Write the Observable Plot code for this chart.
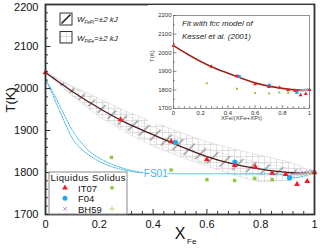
<!DOCTYPE html>
<html><head><meta charset="utf-8">
<script src="https://cdn.jsdelivr.net/npm/d3@7"></script>
<script src="https://cdn.jsdelivr.net/npm/@observablehq/plot@0.6"></script>
<style>
body{margin:0;background:#fff;}
#wrap{position:relative;width:320px;height:251px;overflow:hidden;}
#wrap svg{position:absolute;}
</style></head><body><div id="wrap"></div>
<script>
const FONT = "'Liberation Sans', Arial, Helvetica, sans-serif";

// ---- data ----
const curveX    = [0, 0.1, 0.2, 0.3, 0.4, 0.5, 0.6, 0.7, 0.8, 0.9, 0.95, 1];
const fitT      = [2038, 1993, 1953, 1918, 1890, 1863, 1838, 1820, 1808, 1800, 1799, 1800];
const fePtUpper = [2038, 2003, 1967, 1935, 1908, 1882, 1856, 1836, 1822, 1810, 1805, 1800];
const fePtLower = [2038, 1983, 1939, 1901, 1872, 1844, 1820, 1804, 1794, 1790, 1793, 1800];
const ptFeUpper = [2038, 2005, 1975, 1945, 1920, 1895, 1872, 1855, 1840, 1825, 1814, 1800];
const ptFeLower = [2038, 1982, 1932, 1895, 1862, 1837, 1815, 1793, 1776, 1780, 1789, 1800];

const fs01SolX = [0, 0.02, 0.05, 0.08, 0.105, 0.14, 0.19, 0.24, 0.3, 0.35, 0.41, 0.5, 0.6, 0.7, 0.8, 0.87, 0.9, 0.93, 0.96, 1];
const fs01SolT = [2022, 1995, 1950, 1907, 1876, 1852, 1830, 1815, 1805, 1800, 1798, 1797, 1797, 1797, 1797, 1796, 1792, 1788, 1791, 1800];
const fs01LiqX = [0, 0.03, 0.06, 0.1, 0.127, 0.16, 0.2, 0.25, 0.3, 0.35, 0.41];
const fs01LiqT = [2022, 1988, 1950, 1900, 1876, 1852, 1834, 1819, 1808, 1801, 1798];
const fs01LabelIndex = 10;

const it07LiqX = [0, 0.279, 0.467, 0.6, 0.703, 0.78, 0.843, 0.893, 0.935, 0.973, 1.0];
const it07LiqT = [2038, 1926, 1874, 1831, 1817, 1813, 1799, 1796, 1772, 1779, 1800];
const f04LiqX  = [0.483, 0.704, 0.907];
const f04LiqT  = [1872, 1825, 1787];
const it07SolX = [0.245, 0.467, 0.6, 0.703, 0.778, 0.843];
const it07SolT = [1836, 1806, 1783, 1781, 1786, 1783];
const bh59LiqX = [0.93, 0.945, 0.96, 0.975, 0.99];
const bh59LiqT = [1797, 1798, 1799, 1801, 1803];
const bh59SolX = [0.95, 0.97, 0.985, 1.0];
const bh59SolT = [1795, 1797, 1800, 1802];

const xTicks = [0, 0.2, 0.4, 0.6, 0.8, 1];
const xTickLabels = ["0", "0.2", "0.4", "0.6", "0.8", "1"];
const yTicks = [1700, 1800, 1900, 2000, 2100, 2200];
const yTickLabels = ["1700", "1800", "1900", "2000", "2100", "2200"];

// ---- tables ----
const band = curveX.map((x, i) => ({x, fit: fitT[i], a1: fePtLower[i], a2: fePtUpper[i], b1: ptFeLower[i], b2: ptFeUpper[i]}));
const pts = (xs, ts) => xs.map((x, i) => ({x, t: ts[i]}));
const fsSol = pts(fs01SolX, fs01SolT), fsLiq = pts(fs01LiqX, fs01LiqT);
const it07L = pts(it07LiqX, it07LiqT), f04L = pts(f04LiqX, f04LiqT), it07S = pts(it07SolX, it07SolT);
const bh59L = pts(bh59LiqX, bh59LiqT), bh59S = pts(bh59SolX, bh59SolT);
const xMinor = d3.range(0.04, 1, 0.04).filter(v => Math.abs(v / 0.2 - Math.round(v / 0.2)) > 1e-6);
const yMinor = d3.range(1720, 2200, 20).filter(v => v % 100 !== 0);
const yTop = yTicks.filter(v => v === 2200), yRest = yTicks.filter(v => v !== 2200);
const yFmt = d => yTickLabels[yTicks.indexOf(d)];

const RED = "#ee1d25", BLUE = "#1eaaf0", GREEN = "#8cc63f", PURPLE = "#b48cc8", LGREEN = "#b9de90", FSBLUE = "#3fb3e8";

const main = Plot.plot({
  width: 320, height: 251,
  marginLeft: 45, marginRight: 6, marginTop: 4, marginBottom: 37,
  x: {domain: [0, 1], axis: null, label: null},
  y: {domain: [1700, 2200], axis: null, label: null},
  style: {fontFamily: FONT, background: "transparent", color: "#111"},
  marks: [
    Plot.areaY(band, {x: "x", y1: "b1", y2: "b2", fill: "url(#gridPat)", stroke: "#d4d4d4", strokeWidth: 0.6}),
    Plot.areaY(band, {x: "x", y1: "a1", y2: "a2", fill: "url(#diagPat)", stroke: "#dcdcdc", strokeWidth: 0.6}),
    Plot.line(fsLiq, {x: "x", y: "t", stroke: FSBLUE, strokeWidth: 1, strokeDasharray: "1.4,1.3", curve: "catmull-rom"}),
    Plot.line(fsSol, {x: "x", y: "t", stroke: FSBLUE, strokeWidth: 1, strokeDasharray: "1.4,1.3", curve: "catmull-rom"}),
    Plot.text([fsSol[fs01LabelIndex]], {x: "x", y: "t", text: () => "FS01", fill: FSBLUE, stroke: "white", strokeWidth: 3, fontSize: 10, textAnchor: "middle"}),
    Plot.line(band, {x: "x", y: "fit", stroke: "#4a1c1c", strokeWidth: 1.3, curve: "catmull-rom"}),
    Plot.dot(it07S, {x: "x", y: "t", symbol: "square", r: 1.9, fill: GREEN}),
    Plot.dot(bh59S, {x: "x", y: "t", symbol: "plus", r: 2, stroke: LGREEN, strokeWidth: 1}),
    Plot.dot(bh59L, {x: "x", y: "t", symbol: "times", r: 1.8, stroke: PURPLE, strokeWidth: 1}),
    Plot.dot(f04L, {x: "x", y: "t", r: 2.6, fill: BLUE}),
    Plot.dot(it07L, {x: "x", y: "t", symbol: "triangle", r: 2.2, fill: RED}),
    // inward ticks
    Plot.ruleX(xTicks, {x: d => d, y1: 1700, y2: 1712, stroke: "#333", strokeWidth: 1}),
    Plot.ruleX(xMinor, {x: d => d, y1: 1700, y2: 1707, stroke: "#333", strokeWidth: 1}),
    Plot.ruleY(yTicks, {y: d => d, x1: 0, x2: 0.02, stroke: "#333", strokeWidth: 1}),
    Plot.ruleY(yMinor, {y: d => d, x1: 0, x2: 0.011, stroke: "#333", strokeWidth: 1}),
    Plot.axisX(xTicks, {tickSize: 0, tickPadding: 6, fontSize: 11, label: null, tickFormat: d => xTickLabels[xTicks.indexOf(d)]}),
    Plot.axisY(yRest, {tickSize: 0, tickPadding: 7, fontSize: 11, label: null, tickFormat: yFmt}),
    Plot.axisY(yTop, {tickSize: 0, tickPadding: 7, fontSize: 11, label: null, dy: 3, tickFormat: yFmt}),
    Plot.text(["T(K)"], {frameAnchor: "left", rotate: -90, dx: -35, dy: 3, fontSize: 13, fill: "#111"}),
    Plot.text(["X"], {frameAnchor: "bottom", dy: 24, fontSize: 16, fill: "#111"}),
    Plot.text(["Fe"], {frameAnchor: "bottom", dx: 7, dy: 29, fontSize: 8, textAnchor: "start", fill: "#111"}),
    Plot.frame({stroke: "#333", strokeWidth: 1.8})
  ]
});

// patterns
const svg = d3.select(main);
const defs = svg.insert("defs", ":first-child");
const gp = defs.append("pattern").attr("id", "gridPat").attr("patternUnits", "userSpaceOnUse").attr("width", 6).attr("height", 6);
gp.append("rect").attr("width", 6).attr("height", 6).attr("fill", "white");
gp.append("path").attr("d", "M0,0.5H6M0.5,0V6").attr("stroke", "#cdcdcd").attr("stroke-width", 0.6).attr("fill", "none");
const dp = defs.append("pattern").attr("id", "diagPat").attr("patternUnits", "userSpaceOnUse").attr("width", 11.3).attr("height", 11.3).attr("patternTransform", "rotate(45)");
dp.append("line").attr("x1", 2).attr("y1", 0).attr("x2", 2).attr("y2", 11.3).attr("stroke", "#9c9c9c").attr("stroke-width", 1.5);

// band legend
const lg = svg.append("g").attr("font-family", FONT).attr("fill", "#222").attr("text-anchor", "start");
lg.append("rect").attr("x", 60).attr("y", 13).attr("width", 12).attr("height", 12).attr("fill", "white").attr("stroke", "#333").attr("stroke-width", 1);
lg.append("line").attr("x1", 61.5).attr("y1", 23.5).attr("x2", 70.5).attr("y2", 14.5).attr("stroke", "#222").attr("stroke-width", 1.6);
lg.append("rect").attr("x", 60).attr("y", 31.5).attr("width", 12).attr("height", 11.5).attr("fill", "url(#gridPat)").attr("stroke", "#333").attr("stroke-width", 1);
function wLabel(y, sub) {
  const t = lg.append("text").attr("x", 77).attr("y", y).attr("font-style", "italic").attr("font-size", 8).attr("text-anchor", "start");
  t.append("tspan").text("W");
  t.append("tspan").attr("font-size", 4.5).attr("dy", 2).text(sub);
  t.append("tspan").attr("dy", -2).text("=±2 kJ");
}
wLabel(21.5, "FePt");
wLabel(40.5, "PtFe");

// data legend
const dl = svg.append("g").attr("font-family", FONT).attr("fill", "#111").attr("text-anchor", "start");
dl.append("rect").attr("x", 49).attr("y", 172).attr("width", 78).attr("height", 42).attr("fill", "white").attr("stroke", "#888").attr("stroke-width", 1);
dl.append("text").attr("x", 50.5).attr("y", 181).attr("font-size", 9.5).attr("textLength", 75).attr("lengthAdjust", "spacing").attr("text-anchor", "start").text("Liquidus Solidus");
const rows = [["IT07", 191.5, 187.8], ["F04", 202, 198.3], ["BH59", 212.5, 208.8]];
rows.forEach(([s, y]) => dl.append("text").attr("x", 78).attr("y", y).attr("font-size", 9.5).attr("text-anchor", "start").text(s));
const sym = (type, size) => d3.symbol(type, size)();
dl.append("path").attr("d", sym(d3.symbolTriangle, 15)).attr("transform", `translate(65,${rows[0][2]})`).attr("fill", RED);
dl.append("circle").attr("cx", 65).attr("cy", rows[1][2]).attr("r", 2.5).attr("fill", BLUE);
dl.append("path").attr("d", sym(d3.symbolTimes, 10)).attr("transform", `translate(65,${rows[2][2]})`).attr("stroke", PURPLE).attr("fill", "none");
dl.append("path").attr("d", sym(d3.symbolSquare, 11)).attr("transform", `translate(112,${rows[0][2]})`).attr("fill", GREEN);
dl.append("path").attr("d", sym(d3.symbolPlus, 13)).attr("transform", `translate(112,${rows[2][2]})`).attr("stroke", LGREEN).attr("fill", "none");

// inset
const ixMinor = d3.range(0.04, 1, 0.04).filter(v => Math.abs(v / 0.2 - Math.round(v / 0.2)) > 1e-6);
const iyMinor = d3.range(1750, 2200, 50).filter(v => v % 100 !== 0);
const inset = Plot.plot({
  width: 165, height: 119,
  marginLeft: 25, marginRight: 4, marginTop: 10, marginBottom: 16,
  x: {domain: [0, 1], axis: null, label: null},
  y: {domain: [1700, 2200], axis: null, label: null},
  style: {fontFamily: FONT, background: "white", color: "#333", overflow: "visible"},
  marks: [
    Plot.line(band, {x: "x", y: "fit", stroke: "#d23a2e", strokeWidth: 1.7, curve: "catmull-rom"}),
    Plot.line(band, {x: "x", y: "fit", stroke: "#3a1a1a", strokeWidth: 0.6, curve: "catmull-rom"}),
    Plot.dot(it07S, {x: "x", y: "t", symbol: "square", r: 1.1, fill: GREEN}),
    Plot.dot(bh59S, {x: "x", y: "t", symbol: "plus", r: 1.3, stroke: LGREEN, strokeWidth: 0.8}),
    Plot.dot(bh59L, {x: "x", y: "t", symbol: "times", r: 1.2, stroke: PURPLE, strokeWidth: 0.8}),
    Plot.dot(f04L, {x: "x", y: "t", symbol: "square", r: 1.8, fill: BLUE}),
    Plot.dot(it07L, {x: "x", y: "t", symbol: "triangle", r: 1.5, fill: RED}),
    Plot.ruleX(xTicks, {x: d => d, y1: 1700, y2: 1716, stroke: "#555", strokeWidth: 0.7}),
    Plot.ruleX(ixMinor, {x: d => d, y1: 1700, y2: 1710, stroke: "#555", strokeWidth: 0.7}),
    Plot.ruleY(yTicks, {y: d => d, x1: 0, x2: 0.025, stroke: "#555", strokeWidth: 0.7}),
    Plot.ruleY(iyMinor, {y: d => d, x1: 0, x2: 0.014, stroke: "#555", strokeWidth: 0.7}),
    Plot.axisX(xTicks, {tickSize: 0, tickPadding: 2, fontSize: 6, label: null, tickFormat: d => xTickLabels[xTicks.indexOf(d)]}),
    Plot.axisY(yTicks, {tickSize: 0, tickPadding: 2, fontSize: 6, label: null, tickFormat: yFmt}),
    Plot.text(["T(K)"], {frameAnchor: "left", rotate: -90, dx: -21, fontSize: 6, fill: "#444"}),
    Plot.text(["XFe/(XFe+XPt)"], {frameAnchor: "bottom", dy: 11, fontSize: 6, fill: "#444"}),
    Plot.text(["Fit with fcc model of"], {frameAnchor: "top-left", dx: 8.5, dy: 5, fontSize: 8, fontStyle: "italic", textAnchor: "start", fill: "#222"}),
    Plot.text(["Kessel et al. (2001)"], {frameAnchor: "top-left", dx: 8.5, dy: 18, fontSize: 8, fontStyle: "italic", textAnchor: "start", fill: "#222"}),
    Plot.frame({stroke: "#666", strokeWidth: 0.7})
  ]
});

main.style.left = "0px"; main.style.top = "0px";
inset.style.left = "148px"; inset.style.top = "5px";
const wrap = document.getElementById("wrap");
wrap.appendChild(main);
wrap.appendChild(inset);
</script></body></html>
